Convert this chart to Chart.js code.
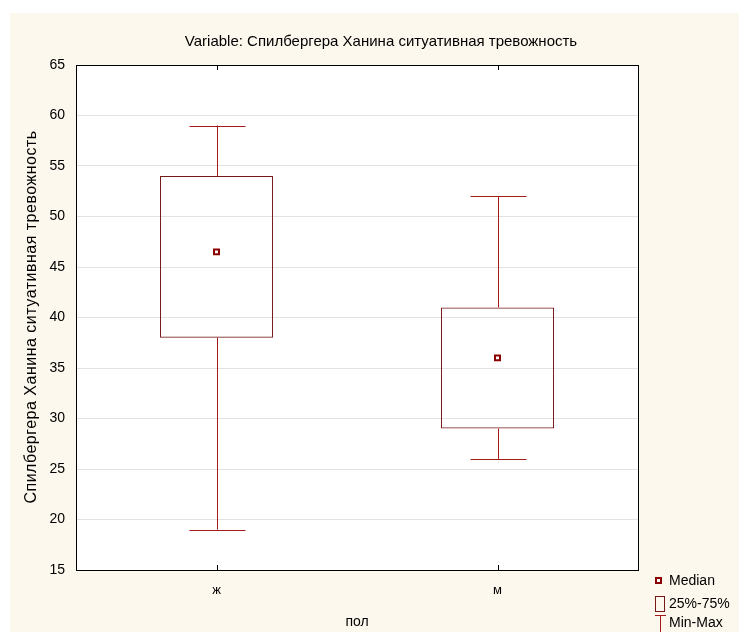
<!DOCTYPE html>
<html>
<head>
<meta charset="utf-8">
<script src="https://cdn.jsdelivr.net/npm/chart.js@4/dist/chart.umd.min.js"></script>
<style>
  html, body { margin: 0; padding: 0; background: #ffffff; }
  #wrap { width: 739px; height: 632px; position: relative; }
</style>
</head>
<body>
<div id="wrap"><canvas id="c" width="739" height="632"></canvas></div>
<script>
// ---- data ----
const categories = ['ж', 'м'];
const minValues = [19, 26];
const q1Values = [38, 29];
const medianValues = [46.5, 36];
const q3Values = [54, 41];
const maxValues = [59, 52];
const yTicks = [15, 20, 25, 30, 35, 40, 45, 50, 55, 60, 65];

const chartTitle = 'Variable: Спилбергера Ханина ситуативная тревожность';
const yTitle = 'Спилбергера Ханина ситуативная тревожность';
const xTitle = 'пол';
const legendLabels = ['Median', '25%-75%', 'Min-Max'];

const FONT = '"Liberation Sans", Arial, sans-serif';
const BOX_COLOR = '#761818';
const WHISKER_COLOR = '#a31a1a';
const MEDIAN_COLOR = '#8b0000';
const CREAM = '#fdf8ed';

const decorPlugin = {
  id: 'decor',
  beforeDraw(chart) {
    const ctx = chart.ctx;
    ctx.save();
    ctx.fillStyle = CREAM;
    ctx.fillRect(10, 13, chart.width - 10, chart.height - 13);
    const a = chart.chartArea;
    ctx.fillStyle = '#ffffff';
    ctx.fillRect(a.left, a.top, a.right - a.left, a.bottom - a.top);
    ctx.restore();
  },
  afterDatasetsDraw(chart) {
    const ctx = chart.ctx;
    const xs = chart.scales.x, ys = chart.scales.y;
    ctx.save();
    ctx.strokeStyle = WHISKER_COLOR;
    ctx.lineWidth = 1;
    for (let i = 0; i < categories.length; i++) {
      const x = Math.round(xs.getPixelForValue(i)) + 0.5;
      const yMin = ys.getPixelForValue(minValues[i]);
      const yQ1 = ys.getPixelForValue(q1Values[i]);
      const yQ3 = ys.getPixelForValue(q3Values[i]);
      const yMax = ys.getPixelForValue(maxValues[i]);
      const half = 28;
      ctx.beginPath();
      ctx.moveTo(x, yQ1); ctx.lineTo(x, yMin);
      ctx.moveTo(x - half, Math.round(yMin) + 0.5); ctx.lineTo(x + half, Math.round(yMin) + 0.5);
      ctx.moveTo(x, yQ3); ctx.lineTo(x, yMax);
      ctx.moveTo(x - half, Math.round(yMax) + 0.5); ctx.lineTo(x + half, Math.round(yMax) + 0.5);
      ctx.stroke();
    }
    ctx.restore();
  },
  afterDraw(chart) {
    const ctx = chart.ctx;
    const a = chart.chartArea;
    const xs = chart.scales.x;
    ctx.save();
    // frame
    ctx.strokeStyle = '#000000';
    ctx.lineWidth = 1;
    ctx.strokeRect(Math.round(a.left) + 0.5, Math.round(a.top) + 0.5,
                   Math.round(a.right - a.left), Math.round(a.bottom - a.top));
    // inner category ticks
    ctx.beginPath();
    for (let i = 0; i < categories.length; i++) {
      const x = Math.round(xs.getPixelForValue(i)) + 0.5;
      ctx.moveTo(x, a.top); ctx.lineTo(x, a.top + 5);
      ctx.moveTo(x, a.bottom); ctx.lineTo(x, a.bottom - 5);
    }
    ctx.stroke();
    // title
    ctx.fillStyle = '#000000';
    ctx.font = '15px ' + FONT;
    ctx.textAlign = 'center';
    ctx.textBaseline = 'middle';
    ctx.fillText(chartTitle, 381, 42);
    // x title
    ctx.font = '14px ' + FONT;
    ctx.fillText(xTitle, (a.left + a.right) / 2, 622);
    // y title
    ctx.save();
    ctx.translate(32, 317);
    ctx.rotate(-Math.PI / 2);
    ctx.font = '16px ' + FONT;
    try { ctx.letterSpacing = '0.5px'; } catch (e) {}
    ctx.fillText(yTitle, 0, 0);
    ctx.restore();
    // legend
    ctx.textAlign = 'left';
    ctx.font = '14px ' + FONT;
    // median marker
    ctx.fillStyle = MEDIAN_COLOR;
    ctx.fillRect(655, 577, 7, 7);
    ctx.fillStyle = '#ffffff';
    ctx.fillRect(657, 579, 3, 3);
    ctx.fillStyle = '#000000';
    ctx.fillText(legendLabels[0], 669, 581);
    // box
    ctx.strokeStyle = BOX_COLOR;
    ctx.strokeRect(655.5, 596.5, 9, 15);
    ctx.fillText(legendLabels[1], 669, 604);
    // min-max
    ctx.strokeStyle = WHISKER_COLOR;
    ctx.beginPath();
    ctx.moveTo(655, 615.5); ctx.lineTo(666, 615.5);
    ctx.moveTo(660.5, 615); ctx.lineTo(660.5, 632);
    ctx.stroke();
    ctx.fillText(legendLabels[2], 669, 623);
    ctx.restore();
  }
};

new Chart(document.getElementById('c'), {
  data: {
    labels: categories,
    datasets: [
      {
        type: 'bar',
        label: '25%-75%',
        data: categories.map((_, i) => [q1Values[i], q3Values[i]]),
        backgroundColor: 'rgba(255,255,255,0)',
        borderColor: BOX_COLOR,
        borderWidth: 1,
        borderSkipped: false,
        categoryPercentage: 1.0,
        barPercentage: 0.402,
        order: 2
      },
      {
        type: 'line',
        label: 'Median',
        data: medianValues,
        showLine: false,
        pointStyle: 'rect',
        pointRadius: 3.5,
        pointHoverRadius: 3.5,
        pointBackgroundColor: '#ffffff',
        pointBorderColor: MEDIAN_COLOR,
        pointBorderWidth: 2,
        order: 1
      }
    ]
  },
  options: {
    responsive: false,
    animation: false,
    events: [],
    layout: { padding: { left: 0, top: 65, right: 101, bottom: 0 } },
    plugins: { legend: { display: false }, tooltip: { enabled: false }, title: { display: false } },
    scales: {
      x: {
        type: 'category',
        grid: { display: false, drawTicks: false },
        border: { display: false },
        ticks: { color: '#000', font: { family: FONT, size: 13 }, padding: 13 },
        afterFit(s) { s.height = 62; }
      },
      y: {
        type: 'linear',
        min: 15, max: 65,
        afterBuildTicks(s) { s.ticks = yTicks.map(v => ({ value: v })); },
        grid: { color: '#e2e2e2', lineWidth: 1, drawTicks: false },
        border: { display: false },
        ticks: { color: '#000', font: { family: FONT, size: 14 }, padding: 11 },
        afterFit(s) { s.width = 76; }
      }
    }
  },
  plugins: [decorPlugin]
});
</script>
</body>
</html>
